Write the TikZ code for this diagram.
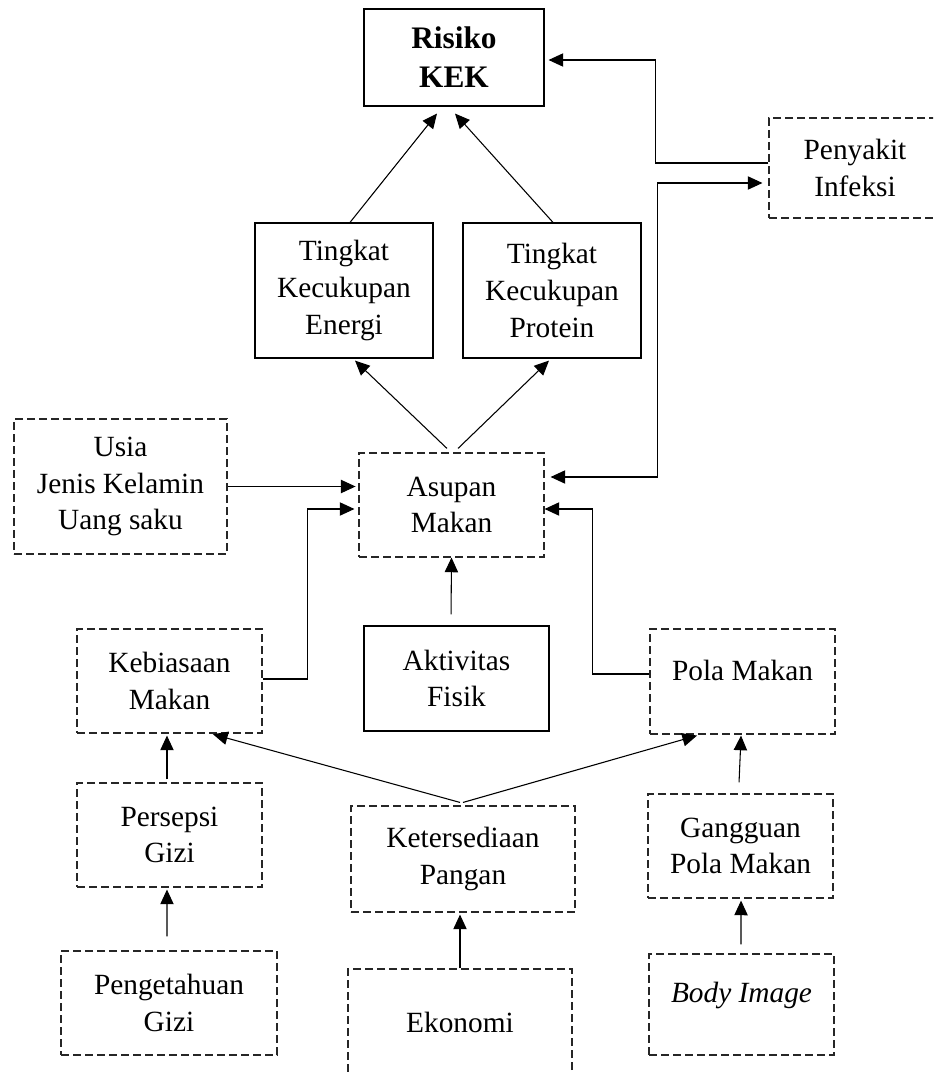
\documentclass[tikz,border=0pt]{standalone}
\usepackage{fontspec}
\setmainfont{Liberation Serif}
\usetikzlibrary{arrows.meta}
\begin{document}
\begin{tikzpicture}[x=0.75pt,y=-0.75pt,
  txt/.style={font=\fontsize{22}{27.5}\selectfont, align=center, inner sep=0pt},
  solidbox/.style={txt, draw=black, line width=0.85pt, rectangle},
  dashbox/.style={txt, draw=black!85, line width=0.85pt, dash pattern=on 6pt off 3pt, rectangle},
  sz/.style 2 args={minimum width=#1*0.75pt, minimum height=#2*0.75pt},
  tip/.tip={Triangle[length=11pt,width=10pt]},
  arr/.style={draw=black, line width=0.8pt, -tip},
  dbl/.style={draw=black, line width=0.8pt, tip-tip}]
\useasboundingbox (0,0) rectangle (933,1073);
\clip (0,0) rectangle (933,1073);

% boxes
\node[solidbox, sz={180}{97}, font=\fontsize{23.5}{29.25}\selectfont\bfseries] (risk) at (454,57.5) {Risiko\\KEK};
\node[dashbox, sz={172}{100}] (inf) at (855,168) {Penyakit\\Infeksi};
\node[solidbox, sz={178}{135}] (energi) at (344,290.5) {Tingkat\\Kecukupan\\Energi};
\node[solidbox, sz={178}{135}] (protein) at (552,290.5) {Tingkat\\Kecukupan\\Protein};
\node[dashbox, sz={213}{135}] (usia) at (120.5,486.5) {Usia\\Jenis Kelamin\\Uang saku};
\node[dashbox, sz={185}{104}] (asupan) at (451.5,505) {Asupan\\Makan};
\node[solidbox, sz={185}{105}] (aktivitas) at (456.5,678.5) {Aktivitas\\Fisik};
\node[dashbox, sz={185}{104}] (kebiasaan) at (169.5,681) {Kebiasaan\\Makan};
\node[dashbox, sz={185}{105}] (pola) at (742.5,681.5) {};
\node[txt, anchor=base] (polatxt) at (742.5,680) {Pola Makan};
\node[dashbox, sz={185}{104}] (persepsi) at (169.5,835) {Persepsi\\Gizi};
\node[dashbox, sz={224}{106}] (ketersediaan) at (463,859) {Ketersediaan\\Pangan};
\node[dashbox, sz={185}{104}] (gangguan) at (740.5,846) {Gangguan\\Pola Makan};
\node[dashbox, sz={216}{104}] (pengetahuan) at (169,1003) {Pengetahuan\\Gizi};
\node[dashbox, sz={224}{141}] (ekonomi) at (460,1039.5) {};
\node[txt, anchor=base] (ekonomitxt) at (460,1032) {Ekonomi};
\node[dashbox, sz={185}{101}] (body) at (741.5,1004.5) {};
\node[txt, anchor=base] (bodytxt) at (741.5,1002) {\itshape Body Image};

% connectors
\draw[arr] ([xshift=4.5pt]energi.north) -- ([xshift=-12.75pt,yshift=-5.25pt]risk.south);
\draw[arr] ([xshift=0.75pt]protein.north) -- ([xshift=0.75pt,yshift=-5.25pt]risk.south);
\draw[arr] ([yshift=3.75pt]inf.west) -- ++(-113,0) |- ([xshift=3pt,yshift=-1.875pt]risk.east);
\draw[dbl] ([xshift=4.5pt,yshift=21pt]asupan.east) -- ++(107,0) |- ([xshift=-4.5pt,yshift=-11.25pt]inf.west);
\draw[arr] (usia.east) -- ++(128,0);
\draw[arr] ([yshift=1.5pt]kebiasaan.east) -- ++(45,0) |- ([xshift=-3pt,yshift=-3pt]asupan.west);
\draw[arr] ([yshift=5.625pt]pola.west) -- ++(-57,0) |- ([yshift=-3pt]asupan.east);
\draw[arr] ([xshift=-4.1pt,yshift=8.25pt]aktivitas.north) -- (asupan.south);
\draw[arr] ([xshift=-3.4pt,yshift=3pt]asupan.north) -- ([xshift=8.25pt,yshift=-1.5pt]energi.south);
\draw[arr] ([xshift=4.9pt,yshift=3pt]asupan.north) -- ([xshift=-2.25pt,yshift=-1.5pt]protein.south);
\draw[arr] ([xshift=-2.25pt,yshift=2.25pt]ketersediaan.north) -- ([xshift=32.6pt,yshift=-0.5pt]kebiasaan.south);
\draw[arr] ([xshift=0pt,yshift=2.25pt]ketersediaan.north) -- ([xshift=-34.1pt,yshift=-0.75pt]pola.south);
\draw[arr] ([xshift=-1.9pt,yshift=2.25pt]persepsi.north) -- ([xshift=-1.9pt,yshift=-1.5pt]kebiasaan.south);
\draw[arr] ([xshift=-1.5pt,yshift=10.5pt]pengetahuan.north) -- ([xshift=-1.9pt,yshift=-1.5pt]persepsi.south);
\draw[arr] (ekonomi.north) -- ([yshift=-1.5pt]ekonomi.north |- ketersediaan.south);
\draw[arr] ([xshift=-1.1pt,yshift=8.25pt]gangguan.north) -- ([xshift=-1.1pt,yshift=-0.75pt]pola.south);
\draw[arr] ([xshift=-0.4pt,yshift=6.75pt]body.north) -- ([xshift=0.4pt,yshift=-1.5pt]gangguan.south);
\end{tikzpicture}
\end{document}
